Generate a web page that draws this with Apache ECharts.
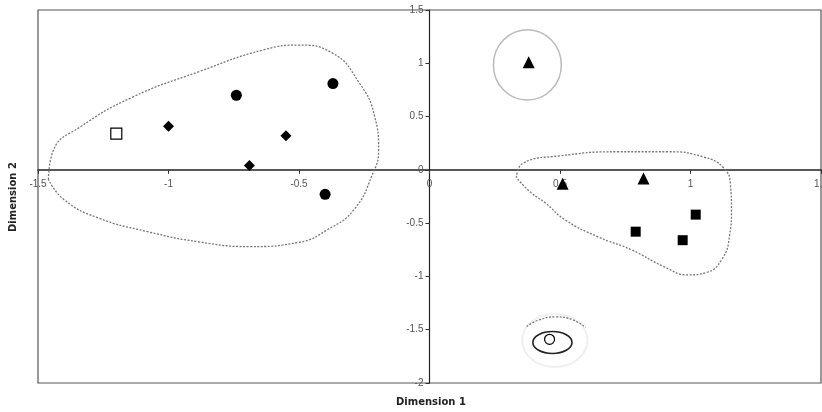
<!DOCTYPE html>
<html>
<head>
<meta charset="utf-8">
<script src="https://cdn.jsdelivr.net/npm/echarts@6/dist/echarts.min.js"></script>
<style>
  html, body { margin: 0; padding: 0; background: #fff; }
  #chart1 { width: 822px; height: 412px; }
</style>
</head>
<body>
<div id="chart1"></div>
<script>
// points, [dim1, dim2]
var openSquare = [[-1.20, 0.34]];
var diamonds = [[-1.00, 0.41], [-0.55, 0.32], [-0.69, 0.04]];
var circles = [[-0.74, 0.70], [-0.37, 0.81], [-0.40, -0.23]];
var triangles = [[0.38, 1.01], [0.51, -0.13], [0.82, -0.08]];
var squares = [[0.79, -0.58], [0.97, -0.66], [1.02, -0.42]];
var openCircle = [[0.46, -1.59]];

// hand drawn group outlines
var leftBlob = [
  [-1.46, -0.09], [-1.44, 0.19], [-1.34, 0.40], [-1.14, 0.68], [-0.885, 0.92],
  [-0.63, 1.13], [-0.50, 1.17], [-0.375, 1.10], [-0.27, 0.82], [-0.21, 0.50],
  [-0.195, 0.19], [-0.22, -0.05], [-0.29, -0.375], [-0.39, -0.56], [-0.50, -0.68],
  [-0.69, -0.72], [-0.885, -0.675], [-1.08, -0.58], [-1.27, -0.45], [-1.40, -0.28],
  [-1.46, -0.09]
];
var rightBlob = [
  [0.333, -0.075], [0.36, 0.066], [0.494, 0.13], [0.724, 0.17], [0.916, 0.17],
  [1.05, 0.12], [1.126, 0.02], [1.153, -0.14], [1.157, -0.375], [1.15, -0.61],
  [1.12, -0.84], [1.057, -0.966], [0.99, -0.985], [0.90, -0.91], [0.774, -0.75],
  [0.647, -0.63], [0.52, -0.47], [0.444, -0.31], [0.39, -0.216], [0.333, -0.075]
];
var bottomArc = [[0.372, -1.47], [0.418, -1.41], [0.483, -1.38], [0.552, -1.41], [0.598, -1.48]];
// ellipses: [cx, cy, rx, ry] in axis units
var ringTop = [[0.375, 0.985, 0.13, 0.33]];
var ringBottom = [[0.471, -1.62, 0.075, 0.103]];
var haloBottom = [[0.48, -1.60, 0.125, 0.25]];

var tickLabels = { '-1.5': '-1.5', '-1': '-1', '-0.5': '-0.5', '0': '0', '0.5': '0.5', '1': '1', '1.5': '1.5' };

(function () {
  var myChart = echarts.init(document.getElementById('chart1'));

  var gridLeft = 38, gridRight = 1, gridTop = 10, gridBottom = 29;
  var xMin = -1.5, xMax = 1.5, yMin = -2, yMax = 1.5;
  var plotW = 822 - gridLeft - gridRight, plotH = 412 - gridTop - gridBottom;
  // shift the axes so they cross at the origin, labels included
  var xOffset = -plotH * (0 - yMin) / (yMax - yMin);
  var yOffset = -plotW * (0 - xMin) / (xMax - xMin);

  function ellipseSeries(data, color, width, z) {
    return {
      type: 'custom',
      silent: true,
      z: z,
      data: data,
      renderItem: function (params, api) {
        var c = api.coord([api.value(0), api.value(1)]);
        var s = api.size([api.value(2), api.value(3)]);
        var rx = s[0], ry = s[1];
        var d = 'M' + (c[0] - rx) + ' ' + c[1] +
          ' A' + rx + ' ' + ry + ' 0 1 0 ' + (c[0] + rx) + ' ' + c[1] +
          ' A' + rx + ' ' + ry + ' 0 1 0 ' + (c[0] - rx) + ' ' + c[1] + ' Z';
        return {
          type: 'path',
          shape: { pathData: d },
          style: { fill: 'none', stroke: color, lineWidth: width }
        };
      }
    };
  }

  function outline(data, color) {
    return {
      type: 'line',
      data: data,
      smooth: 0.5,
      symbol: 'none',
      silent: true,
      z: 1,
      lineStyle: { color: color, width: 1.3, type: [2, 1.5] }
    };
  }

  function points(data, symbol, size, fill) {
    return {
      type: 'scatter',
      data: data,
      symbol: symbol,
      symbolSize: size,
      z: 5,
      itemStyle: { color: fill, borderColor: '#000', borderWidth: fill === '#fff' ? 1.2 : 0, opacity: 1 }
    };
  }

  var axisText = { color: '#555', fontSize: 10, fontFamily: 'Liberation Sans, Arial, sans-serif' };

  var option = {
    animation: false,
    backgroundColor: '#fff',
    grid: {
      left: gridLeft, right: gridRight, top: gridTop, bottom: gridBottom,
      outerBoundsMode: 'none',
      show: true, borderColor: '#555', borderWidth: 1.2
    },
    xAxis: {
      type: 'value',
      min: xMin, max: xMax, interval: 0.5,
      offset: xOffset,
      splitLine: { show: false },
      axisLine: { onZero: false, lineStyle: { color: '#222', width: 1.5 } },
      axisTick: { show: true, length: 4, lineStyle: { color: '#333' } },
      axisLabel: Object.assign({ margin: 9, formatter: function (v) { return tickLabels[String(v)] || String(v); } }, axisText)
    },
    yAxis: {
      type: 'value',
      min: yMin, max: yMax, interval: 0.5,
      offset: yOffset,
      splitLine: { show: false },
      axisLine: { onZero: false, lineStyle: { color: '#222', width: 1.2 } },
      axisTick: { show: true, length: 4, lineStyle: { color: '#333' } },
      axisLabel: Object.assign({ margin: 6, formatter: function (v) { return tickLabels[String(v)] || String(v); } }, axisText)
    },
    graphic: [
      {
        type: 'text', left: 396, top: 397,
        style: { text: 'Dimension 1', fill: '#222', font: 'bold 10px DejaVu Sans, sans-serif' }
      },
      {
        type: 'text', x: 8, y: 232, rotation: Math.PI / 2,
        style: { text: 'Dimension 2', fill: '#222', font: 'bold 10px DejaVu Sans, sans-serif' }
      }
    ],
    series: [
      outline(leftBlob, '#777'),
      outline(rightBlob, '#777'),
      outline(bottomArc, '#777'),
      ellipseSeries(ringTop, '#bbb', 1.5, 1),
      ellipseSeries(haloBottom, '#f0f0f0', 2, 0),
      ellipseSeries(ringBottom, '#222', 1.6, 2),
      points(openSquare, 'rect', 11, '#fff'),
      points(diamonds, 'diamond', 11, '#000'),
      points(circles, 'circle', 11, '#000'),
      points(triangles, 'triangle', 12, '#000'),
      points(squares, 'rect', 10, '#000'),
      points(openCircle, 'circle', 10, '#fff')
    ]
  };

  option && myChart.setOption(option);
})();
</script>
</body>
</html>
